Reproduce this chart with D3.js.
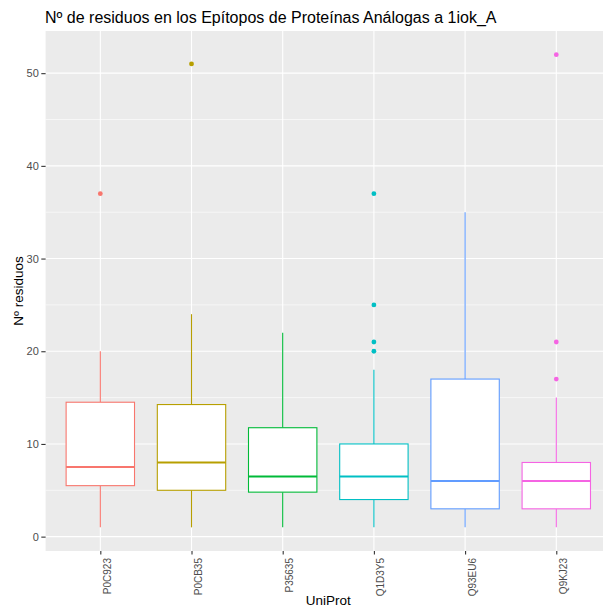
<!DOCTYPE html>
<html>
<head>
<meta charset="utf-8">
<script src="https://cdn.jsdelivr.net/npm/d3@7"></script>
<style>
  html, body { margin: 0; padding: 0; background: #ffffff; }
  svg { display: block; font-family: "Liberation Sans", Arial, sans-serif; }
</style>
</head>
<body>
<svg id="chart" width="603" height="609"></svg>
<script>
// Boxplot summary per protein (UniProt accession)
const proteins   = ["P0C923", "P0CB35", "P35635", "Q1D3Y5", "Q93EU6", "Q9KJ23"];
const whiskerLow = [1, 1, 1, 1, 1, 1];
const q1         = [5.5, 5, 4.8, 4, 3, 3];
const medians    = [7.5, 8, 6.5, 6.5, 6, 6];
const q3         = [14.5, 14.25, 11.75, 10, 17, 8];
const whiskerHigh= [20, 24, 22, 18, 35, 15];
const outliers   = [[37], [51], [], [37, 25, 21, 20], [], [52, 21, 17]];
const colors     = ["#F8766D", "#B79F00", "#00BA38", "#00BFC4", "#619CFF", "#F564E3"];
const yTicks     = [0, 10, 20, 30, 40, 50];
const yMinor     = [5, 15, 25, 35, 45];

const svg = d3.select("#chart");
const panel = { left: 45.6, top: 31, right: 611, bottom: 551 };

// y domain: data range with 5% expansion
const yMin = 1, yMax = 52, pad = (yMax - yMin) * 0.05;
const y = d3.scaleLinear().domain([yMin - pad, yMax + pad]).range([panel.bottom, panel.top]);

// discrete x with 0.6 unit padding on both sides
const x = d3.scalePoint().domain(proteins).range([panel.left, panel.right]).padding(0.6);
const step = x.step();
const boxW = step * 0.75;

// panel background
svg.append("rect")
  .attr("x", panel.left).attr("y", panel.top)
  .attr("width", panel.right - panel.left).attr("height", panel.bottom - panel.top)
  .attr("fill", "#EBEBEB");

const grid = svg.append("g");
grid.selectAll("line.minor").data(yMinor).join("line")
  .attr("x1", panel.left).attr("x2", panel.right)
  .attr("y1", d => y(d)).attr("y2", d => y(d))
  .attr("stroke", "#ffffff").attr("stroke-width", 0.6);
grid.selectAll("line.major").data(yTicks).join("line")
  .attr("x1", panel.left).attr("x2", panel.right)
  .attr("y1", d => y(d)).attr("y2", d => y(d))
  .attr("stroke", "#ffffff").attr("stroke-width", 1.1);
grid.selectAll("line.vmajor").data(proteins).join("line")
  .attr("x1", d => x(d)).attr("x2", d => x(d))
  .attr("y1", panel.top).attr("y2", panel.bottom)
  .attr("stroke", "#ffffff").attr("stroke-width", 1.1);

// boxes
const boxes = svg.append("g").selectAll("g").data(proteins).join("g");
boxes.each(function(p, i) {
  const g = d3.select(this);
  const cx = x(p), c = colors[i];
  g.append("line").attr("x1", cx).attr("x2", cx)
    .attr("y1", y(q3[i])).attr("y2", y(whiskerHigh[i]))
    .attr("stroke", c).attr("stroke-width", 1.1);
  g.append("line").attr("x1", cx).attr("x2", cx)
    .attr("y1", y(q1[i])).attr("y2", y(whiskerLow[i]))
    .attr("stroke", c).attr("stroke-width", 1.1);
  g.append("rect")
    .attr("x", cx - boxW / 2).attr("width", boxW)
    .attr("y", y(q3[i])).attr("height", y(q1[i]) - y(q3[i]))
    .attr("fill", "#ffffff").attr("stroke", c).attr("stroke-width", 1.1);
  g.append("line")
    .attr("x1", cx - boxW / 2).attr("x2", cx + boxW / 2)
    .attr("y1", y(medians[i])).attr("y2", y(medians[i]))
    .attr("stroke", c).attr("stroke-width", 2);
  g.selectAll("circle").data(outliers[i]).join("circle")
    .attr("cx", cx).attr("cy", d => y(d)).attr("r", 2.4)
    .attr("fill", c);
});

// y axis
const yAxis = d3.axisLeft(y).tickValues(yTicks).tickSize(4.3).tickPadding(2.5);
const gy = svg.append("g").attr("transform", `translate(${panel.left},0)`).call(yAxis);
gy.select(".domain").remove();
gy.selectAll(".tick line").attr("stroke", "#333333").attr("stroke-width", 1.1);
gy.selectAll(".tick text").attr("fill", "#4D4D4D").style("font-size", "11px")
  .style("font-family", "'Liberation Sans', Arial, sans-serif");

// x axis with vertical labels
const xAxis = d3.axisBottom(x).tickSize(3.5).tickPadding(2);
const gx = svg.append("g").attr("transform", `translate(0,${panel.bottom})`).call(xAxis);
gx.select(".domain").remove();
gx.selectAll(".tick line").attr("stroke", "#333333").attr("stroke-width", 1.1);
gx.selectAll(".tick text")
  .attr("fill", "#4D4D4D").style("font-size", "10px")
  .style("font-family", "'Liberation Sans', Arial, sans-serif")
  .attr("transform", "rotate(-90)")
  .attr("x", -7).attr("y", 10).attr("dy", 0).attr("dx", 0)
  .attr("text-anchor", "end");

// titles
svg.append("text")
  .attr("x", 45).attr("y", 23)
  .attr("font-size", 16).attr("fill", "#000000")
  .text("Nº de residuos en los Epítopos de Proteínas Análogas a 1iok_A");

svg.append("text")
  .attr("transform", `translate(22.5,${(panel.top + panel.bottom) / 2}) rotate(-90)`)
  .attr("text-anchor", "middle")
  .attr("font-size", 13.5).attr("fill", "#000000")
  .text("Nº residuos");

svg.append("text")
  .attr("x", (panel.left + panel.right) / 2).attr("y", 605)
  .attr("text-anchor", "middle")
  .attr("font-size", 13.5).attr("fill", "#000000")
  .text("UniProt");
</script>
</body>
</html>
